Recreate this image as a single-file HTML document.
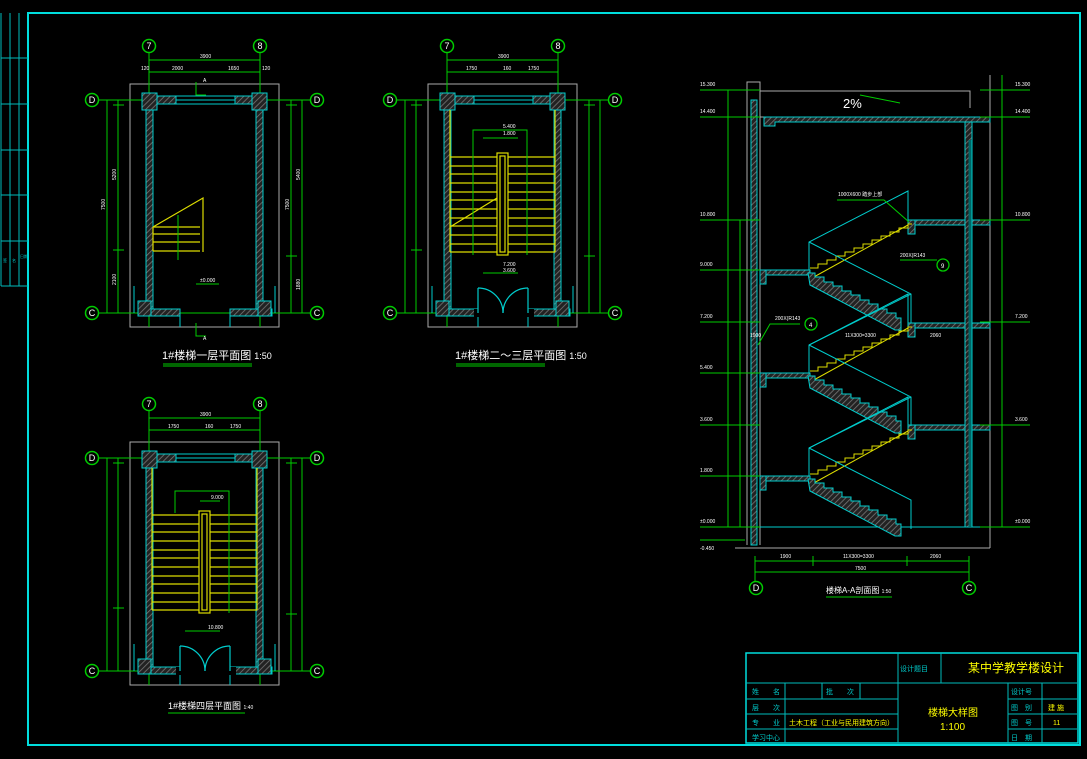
<!DOCTYPE html>
<html><head><meta charset="utf-8"><style>
html,body{margin:0;padding:0;background:#000;}
svg{display:block;}
text{font-family:"Liberation Sans","Noto Sans CJK SC",sans-serif;}
</style></head><body>
<svg width="1087" height="759" viewBox="0 0 1087 759" xmlns="http://www.w3.org/2000/svg">
<defs>
<pattern id="h" width="4" height="4" patternUnits="userSpaceOnUse" patternTransform="rotate(45)">
<rect width="4" height="4" fill="#222"/><line x1="0" y1="0" x2="0" y2="4" stroke="#777" stroke-width="1.6"/>
</pattern>
<g id="shell">
<rect x="130" y="84" width="149" height="243" fill="none" stroke="#aaa" stroke-width="1"/>
<g stroke="#0c0" stroke-width="1" fill="none">
<line x1="149" y1="53" x2="149" y2="327"/><line x1="260" y1="53" x2="260" y2="327"/>
<line x1="99" y1="100" x2="310" y2="100"/><line x1="99" y1="313" x2="310" y2="313"/>
<line x1="149" y1="60" x2="260" y2="60"/><line x1="149" y1="72" x2="260" y2="72"/>
<line x1="107" y1="100" x2="107" y2="313"/><line x1="118" y1="100" x2="118" y2="313"/>
<line x1="291" y1="100" x2="291" y2="313"/><line x1="302" y1="100" x2="302" y2="313"/>
<line x1="113" y1="250" x2="124" y2="250"/><line x1="286" y1="256" x2="297" y2="256"/>
<line x1="113" y1="105" x2="124" y2="105"/><line x1="286" y1="105" x2="297" y2="105"/>
<circle cx="149" cy="46" r="6.5" stroke-width="1.5"/><circle cx="260" cy="46" r="6.5" stroke-width="1.5"/>
<circle cx="92" cy="100" r="6.5" stroke-width="1.5"/><circle cx="317" cy="100" r="6.5" stroke-width="1.5"/>
<circle cx="92" cy="313" r="6.5" stroke-width="1.5"/><circle cx="317" cy="313" r="6.5" stroke-width="1.5"/>
</g>
<g fill="#fff" font-size="9" text-anchor="middle">
<text x="149" y="49">7</text><text x="260" y="49">8</text>
<text x="92" y="103">D</text><text x="317" y="103">D</text>
<text x="92" y="316">C</text><text x="317" y="316">C</text>
</g>
<g fill="url(#h)" stroke="#0cc" stroke-width="1">
<rect x="142" y="96" width="121" height="8"/>
<rect x="146" y="104" width="7" height="206"/>
<rect x="256" y="104" width="7" height="206"/>
<rect x="142" y="93" width="15" height="17"/>
<rect x="252" y="93" width="15" height="17"/>
<rect x="138" y="309" width="42" height="7"/>
<rect x="230" y="309" width="42" height="7"/>
<rect x="138" y="301" width="13" height="15"/>
<rect x="258" y="301" width="13" height="15"/>
</g>
<rect x="176" y="96" width="59" height="8" fill="#000" stroke="#0cc"/>
<line x1="176" y1="100" x2="235" y2="100" stroke="#0cc"/>
<g stroke="#0cc" fill="none"><line x1="180" y1="309" x2="180" y2="327"/><line x1="230" y1="309" x2="230" y2="327"/>
<line x1="134" y1="286" x2="134" y2="313"/><line x1="275" y1="286" x2="275" y2="313"/></g>
</g>
<g id="doors" stroke="#0cc" fill="none" stroke-width="1.2">
<rect x="176" y="309" width="60" height="8" fill="#000" stroke="none"/>
<line x1="180" y1="288" x2="180" y2="313"/><line x1="230" y1="288" x2="230" y2="313"/>
<path d="M180 288 A25 25 0 0 1 205 313"/><path d="M230 288 A25 25 0 0 0 205 313"/>
</g>
<g id="stair2" stroke="#dd0" fill="none" stroke-width="1.2">
<line x1="152" y1="110" x2="152" y2="252"/><line x1="257" y1="110" x2="257" y2="252"/>
<path d="M152 157H199M152 166H199M152 174H199M152 183H199M152 192H199M152 200H199M152 209H199M152 218H199M152 226H199M152 235H199M152 244H199M152 252H199"/>
<path d="M210 157H257M210 166H257M210 174H257M210 183H257M210 192H257M210 200H257M210 209H257M210 218H257M210 226H257M210 235H257M210 244H257M210 252H257"/>
<rect x="199" y="153" width="11" height="102"/><rect x="202" y="156" width="5" height="96"/>
</g>
</defs>

<!-- frame -->
<rect x="28" y="13" width="1052" height="732" fill="none" stroke="#0dd" stroke-width="2"/>
<g stroke="#0bb" stroke-width="1">
<line x1="1" y1="13" x2="1" y2="286"/><line x1="10" y1="13" x2="10" y2="286"/><line x1="19" y1="13" x2="19" y2="286"/>
<line x1="1" y1="58" x2="28" y2="58"/><line x1="1" y1="104" x2="28" y2="104"/><line x1="1" y1="150" x2="28" y2="150"/>
<line x1="1" y1="195" x2="28" y2="195"/><line x1="1" y1="241" x2="28" y2="241"/><line x1="1" y1="286" x2="28" y2="286"/>
</g>
<g fill="#0cc" font-size="4"><text x="3" y="262">签</text><text x="12" y="262">名</text><text x="20" y="258">日期</text></g>

<!-- plan 1 -->
<use href="#shell"/>
<g stroke="#dd0" fill="none" stroke-width="1.2">
<path d="M153 227H200M153 234H200M153 242H200M153 251H200M153 227L203 198V252M153 227V251"/>
</g>
<g stroke="#0c0" fill="none"><line x1="178" y1="215" x2="178" y2="260"/><path d="M196 82V95H206M196 323V336H206"/><line x1="196" y1="284" x2="219" y2="284"/></g>
<g fill="#fff" font-size="5"><text x="203" y="82">A</text><text x="203" y="340">A</text><text x="200" y="282">±0.000</text>
<text x="172" y="70">2000</text><text x="228" y="70">1650</text><text x="200" y="58">3900</text><text x="141" y="70">120</text><text x="262" y="70">120</text></g>
<g fill="#fff" font-size="5" transform="rotate(-90)"><text x="-210" y="105">7500</text><text x="-180" y="116">5200</text><text x="-285" y="116">2100</text><text x="-180" y="300">5400</text><text x="-210" y="289">7500</text><text x="-290" y="300">1880</text></g>
<text x="162" y="359" fill="#fff" font-size="11">1#楼梯一层平面图 <tspan font-size="9">1:50</tspan></text>
<g stroke="#0c0"><line x1="163" y1="364" x2="252" y2="364"/><line x1="163" y1="366" x2="252" y2="366"/></g>

<!-- plan 2 -->
<g transform="translate(298,0)">
<use href="#shell"/><use href="#doors"/><use href="#stair2"/>
<line x1="152" y1="227" x2="199" y2="198" stroke="#dd0" stroke-width="1.2"/>
<g stroke="#0c0" fill="none"><path d="M175 255V130H229V255"/><line x1="185" y1="138" x2="220" y2="138"/><line x1="185" y1="273" x2="220" y2="273"/></g>
<g fill="#fff" font-size="5"><text x="205" y="128">5.400</text><text x="205" y="135">1.800</text><text x="205" y="266">7.200</text><text x="205" y="272">3.600</text>
<text x="168" y="70">1750</text><text x="205" y="70">160</text><text x="230" y="70">1750</text><text x="200" y="58">3900</text></g>
</g>
<text x="455" y="359" fill="#fff" font-size="11">1#楼梯二～三层平面图 <tspan font-size="9">1:50</tspan></text>
<g stroke="#0c0"><line x1="456" y1="364" x2="545" y2="364"/><line x1="456" y1="366" x2="545" y2="366"/></g>

<!-- plan 3 -->
<g transform="translate(0,358)">
<use href="#shell"/><use href="#doors"/><use href="#stair2"/>
<g stroke="#0c0" fill="none"><path d="M175 155V133H229V255"/><line x1="200" y1="143" x2="220" y2="143"/><line x1="185" y1="273" x2="220" y2="273"/></g>
<g fill="#fff" font-size="5"><text x="211" y="141">9.000</text><text x="208" y="271">10.800</text>
<text x="168" y="70">1750</text><text x="205" y="70">160</text><text x="230" y="70">1750</text><text x="200" y="58">3900</text></g>
</g>
<text x="168" y="709" fill="#fff" font-size="9">1#楼梯四层平面图 <tspan font-size="5">1:40</tspan></text>
<g stroke="#0c0"><line x1="168" y1="713" x2="245" y2="713"/></g>

<!-- section -->
<g stroke="#aaa" fill="none" stroke-width="1">
<path d="M747 545V82H760V91H970V108"/><line x1="760" y1="91" x2="760" y2="545"/>
<line x1="990" y1="75" x2="990" y2="548"/><line x1="735" y1="548" x2="990" y2="548"/>
<line x1="760" y1="117" x2="778" y2="117"/>
</g>
<rect x="751" y="100" width="6" height="445" fill="url(#h)" stroke="#0cc"/>
<line x1="757" y1="130" x2="757" y2="545" stroke="#0cc"/>
<g fill="url(#h)" stroke="#0cc">
<path d="M778 117H990V122H775V126H764V117Z"/>
<rect x="908" y="220" width="82" height="5"/><rect x="908" y="323" width="82" height="5"/><rect x="908" y="425" width="82" height="5"/>
<rect x="908" y="220" width="7" height="14"/><rect x="908" y="323" width="7" height="14"/><rect x="908" y="425" width="7" height="14"/>
<rect x="760" y="270" width="50" height="5"/><rect x="760" y="373" width="50" height="5"/><rect x="760" y="476" width="50" height="5"/>
<rect x="760" y="270" width="6" height="14"/><rect x="760" y="373" width="6" height="14"/><rect x="760" y="476" width="6" height="14"/>
<rect x="965" y="122" width="7" height="405"/>
</g>
<line x1="760" y1="527" x2="990" y2="527" stroke="#0cc"/>
<line x1="970" y1="140" x2="970" y2="527" stroke="#066" stroke-width="3"/>
<g id="flights">
<path d="M810 268 l8 0 0 -4 9 0 0 -4 9 0 0 -4 9 0 0 -4 9 0 0 -4 9 0 0 -4 9 0 0 -4 9 0 0 -4 9 0 0 -4 9 0 0 -4 9 0 0 -4 4 0" stroke="#dd0" fill="none"/>
<line x1="812" y1="278" x2="908" y2="225" stroke="#dd0"/>
<path d="M808 273 l7 0 0 4 9 0 0 5 9 0 0 4 9 0 0 5 9 0 0 4 9 0 0 5 9 0 0 4 9 0 0 5 9 0 0 4 9 0 0 5 5 0 0 12 -6 0 L810 285Z" fill="url(#h)" stroke="#0cc"/>
<path d="M809 270V242L908 191V220M809 242L911 294V323" stroke="#0cc" fill="none"/>
</g>
<use href="#flights" transform="translate(0,103)"/>
<use href="#flights" transform="translate(0,206)"/>
<path d="M911 500V527M809 345L911 294" stroke="#0cc" fill="none"/>
<path d="M809 448L911 397M809 551" stroke="#0cc" fill="none"/>
<g stroke="#0c0" fill="none">
<line x1="728" y1="90" x2="728" y2="527"/><line x1="740" y1="220" x2="740" y2="527"/><line x1="1002" y1="75" x2="1002" y2="527"/>
<path d="M700 90H760M700 117H760M700 220H760M700 270H760M700 322H760M700 373H760M700 425H760M700 476H760M700 527H760M700 540H745"/>
<path d="M980 90H1030M980 117H1030M980 220H1030M980 322H1030M980 425H1030M980 527H1030"/>
<line x1="755" y1="561" x2="969" y2="561"/><line x1="755" y1="572" x2="969" y2="572"/>
<path d="M813 556V566M907 556V566M969 556V577M755 556V577"/>
<line x1="755" y1="560" x2="755" y2="582"/><line x1="969" y1="560" x2="969" y2="582"/>
<circle cx="756" cy="588" r="6.5" stroke-width="1.5"/><circle cx="969" cy="588" r="6.5" stroke-width="1.5"/>
<circle cx="943" cy="265" r="6" stroke-width="1.3"/><circle cx="811" cy="324" r="6" stroke-width="1.3"/>
<path d="M837 200H884L909 222M900 260H937M800 324H770L758 345"/>
<line x1="860" y1="95" x2="900" y2="103"/>
</g>
<g fill="#fff" font-size="5">
<text x="700" y="86">15.300</text><text x="700" y="113">14.400</text><text x="700" y="216">10.800</text><text x="700" y="266">9.000</text>
<text x="700" y="318">7.200</text><text x="700" y="369">5.400</text><text x="700" y="421">3.600</text><text x="700" y="472">1.800</text>
<text x="700" y="523">±0.000</text><text x="700" y="550">-0.450</text>
<text x="1015" y="86">15.300</text><text x="1015" y="113">14.400</text><text x="1015" y="216">10.800</text><text x="1015" y="318">7.200</text><text x="1015" y="421">3.600</text><text x="1015" y="523">±0.000</text>
<text x="780" y="558">1900</text><text x="843" y="558">11X300=3300</text><text x="930" y="558">2060</text><text x="855" y="570">7500</text>
<text x="838" y="196">1000X600 踏步上部</text><text x="900" y="257">200X(R143</text><text x="775" y="320">200X(R143</text>
<text x="750" y="337">1900</text><text x="845" y="337">11X300=3300</text><text x="930" y="337">2060</text>
<text x="941" y="268" font-size="6">9</text><text x="809" y="327" font-size="6">4</text>
</g>
<text x="843" y="108" fill="#fff" font-size="13">2%</text>
<g fill="#fff" font-size="9" text-anchor="middle"><text x="756" y="591">D</text><text x="969" y="591">C</text></g>
<text x="826" y="593" fill="#fff" font-size="8">楼梯A-A剖面图 <tspan font-size="5">1:50</tspan></text>
<line x1="826" y1="597" x2="892" y2="597" stroke="#0c0"/>

<!-- title block -->
<rect x="746" y="653" width="332" height="90" fill="none" stroke="#0dd" stroke-width="1.5"/>
<g stroke="#0bb" stroke-width="1">
<line x1="746" y1="683" x2="898" y2="683"/><line x1="746" y1="699" x2="898" y2="699"/><line x1="746" y1="714" x2="898" y2="714"/><line x1="746" y1="729" x2="898" y2="729"/>
<line x1="898" y1="683" x2="1077" y2="683"/>
<line x1="1008" y1="699" x2="1077" y2="699"/><line x1="1008" y1="714" x2="1077" y2="714"/><line x1="1008" y1="729" x2="1077" y2="729"/>
<line x1="898" y1="653" x2="898" y2="743"/><line x1="941" y1="653" x2="941" y2="683"/>
<line x1="785" y1="683" x2="785" y2="743"/><line x1="822" y1="683" x2="822" y2="699"/><line x1="860" y1="683" x2="860" y2="699"/>
<line x1="1008" y1="683" x2="1008" y2="743"/><line x1="1042" y1="683" x2="1042" y2="743"/>
</g>
<g fill="#0cc" font-size="7">
<text x="900" y="671">设计题目</text>
<text x="752" y="694">姓　　名</text><text x="826" y="694">批　　次</text>
<text x="752" y="710">层　　次</text><text x="752" y="725">专　　业</text><text x="752" y="740">学习中心</text>
<text x="1011" y="694">设计号</text><text x="1011" y="710">图　别</text><text x="1011" y="725">图　号</text><text x="1011" y="740">日　期</text>
</g>
<g fill="#ff0">
<text x="968" y="672" font-size="12">某中学教学楼设计</text>
<text x="789" y="725" font-size="7">土木工程（工业与民用建筑方向）</text>
<text x="928" y="716" font-size="10">楼梯大样图</text>
<text x="940" y="730" font-size="10">1:100</text>
<text x="1048" y="710" font-size="7">建 施</text>
<text x="1053" y="725" font-size="7">11</text>
</g>
</svg>
</body></html>
